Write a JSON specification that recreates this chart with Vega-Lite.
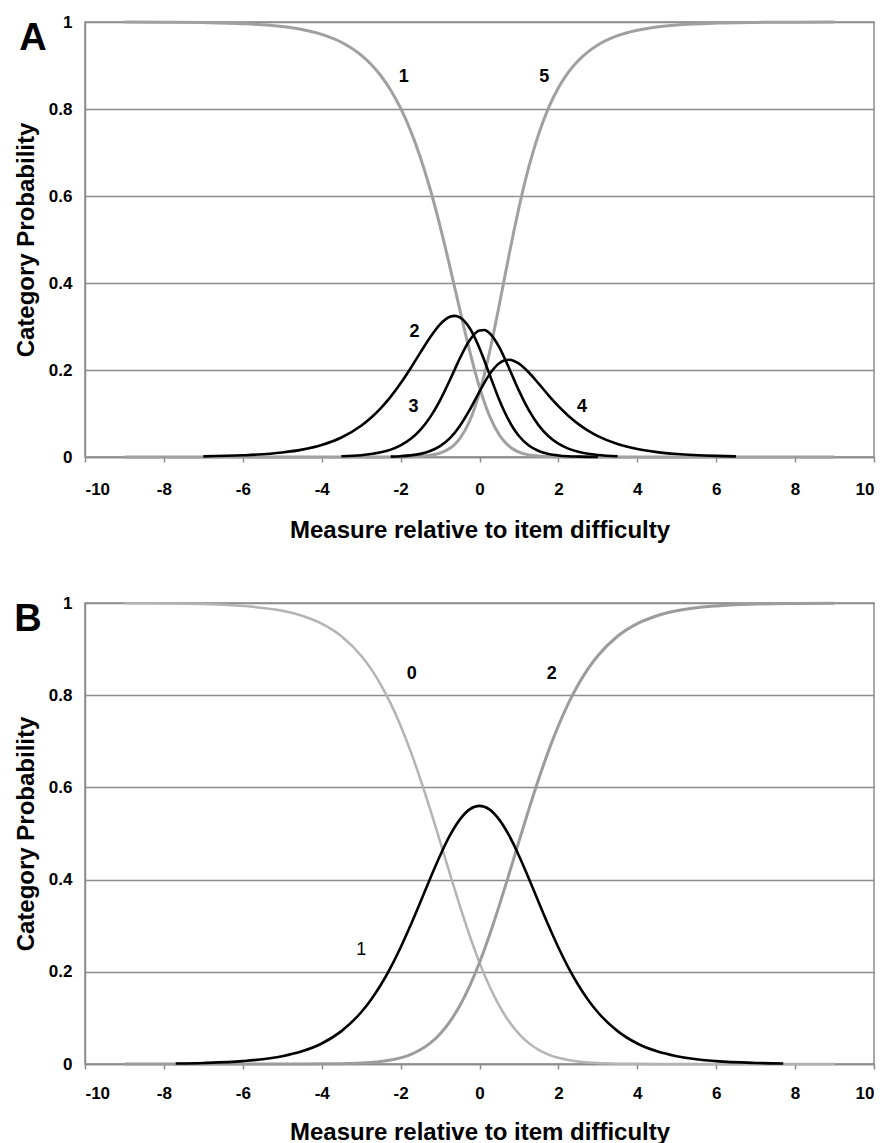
{
  "$schema": "https://vega.github.io/schema/vega-lite/v6.json",
  "padding": {"left": 13, "top": 12, "right": 3, "bottom": 0},
  "background": "white",
  "config": {
    "font": "Liberation Sans",
    "view": {"stroke": "#8c8c8c", "strokeWidth": 1.5},
    "axis": {
      "labelFont": "Liberation Sans", "labelFontWeight": "bold", "labelFontSize": 17, "labelColor": "#000",
      "titleFont": "Liberation Sans", "titleFontWeight": "bold", "titleFontSize": 24, "titleColor": "#000",
      "domainColor": "#8c8c8c", "domainWidth": 1.5, "tickColor": "#8c8c8c", "tickWidth": 1.5,
      "gridColor": "#8c8c8c", "gridWidth": 1.5
    },
    "concat": {"spacing": 50},
    "title": {"font": "Liberation Sans", "color": "#000"}
  },
  "datasets": {
    "A": [
      {"c":"1","x":-9,"y":0.9998},{"c":"1","x":-8,"y":0.9995},{"c":"1","x":-7,"y":0.9986},{"c":"1","x":-6,"y":0.9961},{"c":"1","x":-5,"y":0.9895},{"c":"1","x":-4.5,"y":0.9827},{"c":"1","x":-4,"y":0.9716},{"c":"1","x":-3.5,"y":0.9535},{"c":"1","x":-3,"y":0.9239},{"c":"1","x":-2.75,"y":0.903},{"c":"1","x":-2.5,"y":0.8765},{"c":"1","x":-2.25,"y":0.8433},{"c":"1","x":-2,"y":0.8019},{"c":"1","x":-1.75,"y":0.7509},{"c":"1","x":-1.5,"y":0.6891},{"c":"1","x":-1.25,"y":0.6156},{"c":"1","x":-1,"y":0.531},{"c":"1","x":-0.75,"y":0.4372},{"c":"1","x":-0.625,"y":0.3883},{"c":"1","x":-0.5,"y":0.3392},{"c":"1","x":-0.25,"y":0.244},{"c":"1","x":0,"y":0.1603},{"c":"1","x":0.125,"y":0.1252},{"c":"1","x":0.25,"y":0.0953},{"c":"1","x":0.5,"y":0.0512},{"c":"1","x":0.625,"y":0.0362},{"c":"1","x":0.75,"y":0.0251},{"c":"1","x":0.875,"y":0.017},{"c":"1","x":1,"y":0.0114},{"c":"1","x":1.25,"y":0.0049},{"c":"1","x":1.5,"y":0.002},{"c":"1","x":1.75,"y":0.0008},{"c":"1","x":2,"y":0.0003},{"c":"1","x":2.25,"y":0.0001},{"c":"1","x":2.5,"y":0},{"c":"1","x":3,"y":0},{"c":"1","x":4,"y":0},{"c":"1","x":5,"y":0},{"c":"1","x":6,"y":0},{"c":"1","x":7,"y":0},{"c":"1","x":8,"y":0},{"c":"1","x":9,"y":0},
      {"c":"5","x":-9,"y":0},{"c":"5","x":-8,"y":0},{"c":"5","x":-7,"y":0},{"c":"5","x":-6,"y":0},{"c":"5","x":-5,"y":0},{"c":"5","x":-4,"y":0},{"c":"5","x":-3,"y":0},{"c":"5","x":-2.5,"y":0},{"c":"5","x":-2.25,"y":0.0001},{"c":"5","x":-2,"y":0.0002},{"c":"5","x":-1.75,"y":0.0006},{"c":"5","x":-1.5,"y":0.0016},{"c":"5","x":-1.25,"y":0.0038},{"c":"5","x":-1,"y":0.009},{"c":"5","x":-0.75,"y":0.0201},{"c":"5","x":-0.625,"y":0.0294},{"c":"5","x":-0.5,"y":0.0424},{"c":"5","x":-0.25,"y":0.0828},{"c":"5","x":0,"y":0.148},{"c":"5","x":0.125,"y":0.1906},{"c":"5","x":0.25,"y":0.2391},{"c":"5","x":0.5,"y":0.3492},{"c":"5","x":0.625,"y":0.4072},{"c":"5","x":0.75,"y":0.4648},{"c":"5","x":0.875,"y":0.5206},{"c":"5","x":1,"y":0.5733},{"c":"5","x":1.25,"y":0.6667},{"c":"5","x":1.5,"y":0.7427},{"c":"5","x":1.75,"y":0.8026},{"c":"5","x":2,"y":0.8487},{"c":"5","x":2.25,"y":0.884},{"c":"5","x":2.5,"y":0.911},{"c":"5","x":2.75,"y":0.9315},{"c":"5","x":3,"y":0.9472},{"c":"5","x":3.5,"y":0.9685},{"c":"5","x":4,"y":0.9811},{"c":"5","x":4.5,"y":0.9886},{"c":"5","x":5,"y":0.9931},{"c":"5","x":6,"y":0.9975},{"c":"5","x":7,"y":0.9991},{"c":"5","x":8,"y":0.9997},{"c":"5","x":9,"y":0.9999},
      {"c":"2","x":-7,"y":0.0014},{"c":"2","x":-6,"y":0.0039},{"c":"2","x":-5,"y":0.0104},{"c":"2","x":-4.5,"y":0.017},{"c":"2","x":-4,"y":0.0278},{"c":"2","x":-3.5,"y":0.0449},{"c":"2","x":-3,"y":0.0718},{"c":"2","x":-2.75,"y":0.0901},{"c":"2","x":-2.5,"y":0.1123},{"c":"2","x":-2.25,"y":0.1387},{"c":"2","x":-2,"y":0.1694},{"c":"2","x":-1.75,"y":0.2036},{"c":"2","x":-1.5,"y":0.2399},{"c":"2","x":-1.25,"y":0.2752},{"c":"2","x":-1,"y":0.3048},{"c":"2","x":-0.75,"y":0.3223},{"c":"2","x":-0.625,"y":0.3244},{"c":"2","x":-0.5,"y":0.321},{"c":"2","x":-0.25,"y":0.2965},{"c":"2","x":0,"y":0.2502},{"c":"2","x":0.125,"y":0.2214},{"c":"2","x":0.25,"y":0.191},{"c":"2","x":0.5,"y":0.1317},{"c":"2","x":0.625,"y":0.1056},{"c":"2","x":0.75,"y":0.0828},{"c":"2","x":0.875,"y":0.0638},{"c":"2","x":1,"y":0.0483},{"c":"2","x":1.25,"y":0.0265},{"c":"2","x":1.5,"y":0.0139},{"c":"2","x":1.75,"y":0.0071},{"c":"2","x":2,"y":0.0036},{"c":"2","x":2.25,"y":0.0017},{"c":"2","x":2.5,"y":0.0009},{"c":"2","x":2.75,"y":0.0004},{"c":"2","x":3,"y":0.0002},
      {"c":"3","x":-3.5,"y":0.0016},{"c":"3","x":-3,"y":0.0042},{"c":"3","x":-2.75,"y":0.0067},{"c":"3","x":-2.5,"y":0.0107},{"c":"3","x":-2.25,"y":0.017},{"c":"3","x":-2,"y":0.0267},{"c":"3","x":-1.75,"y":0.0412},{"c":"3","x":-1.5,"y":0.0623},{"c":"3","x":-1.25,"y":0.0917},{"c":"3","x":-1,"y":0.1304},{"c":"3","x":-0.75,"y":0.1771},{"c":"3","x":-0.625,"y":0.2019},{"c":"3","x":-0.5,"y":0.2264},{"c":"3","x":-0.25,"y":0.2685},{"c":"3","x":0,"y":0.291},{"c":"3","x":0.125,"y":0.2918},{"c":"3","x":0.25,"y":0.2852},{"c":"3","x":0.5,"y":0.2525},{"c":"3","x":0.625,"y":0.2294},{"c":"3","x":0.75,"y":0.2039},{"c":"3","x":0.875,"y":0.1779},{"c":"3","x":1,"y":0.1525},{"c":"3","x":1.25,"y":0.1076},{"c":"3","x":1.5,"y":0.0727},{"c":"3","x":1.75,"y":0.0476},{"c":"3","x":2,"y":0.0306},{"c":"3","x":2.25,"y":0.0193},{"c":"3","x":2.5,"y":0.0121},{"c":"3","x":2.75,"y":0.0075},{"c":"3","x":3,"y":0.0046},{"c":"3","x":3.5,"y":0.0017},
      {"c":"4","x":-2.25,"y":0.0009},{"c":"4","x":-2,"y":0.0019},{"c":"4","x":-1.75,"y":0.0037},{"c":"4","x":-1.5,"y":0.0072},{"c":"4","x":-1.25,"y":0.0136},{"c":"4","x":-1,"y":0.0248},{"c":"4","x":-0.75,"y":0.0433},{"c":"4","x":-0.625,"y":0.0559},{"c":"4","x":-0.5,"y":0.0711},{"c":"4","x":-0.25,"y":0.1082},{"c":"4","x":0,"y":0.1505},{"c":"4","x":0.125,"y":0.1711},{"c":"4","x":0.25,"y":0.1894},{"c":"4","x":0.5,"y":0.2154},{"c":"4","x":0.625,"y":0.2217},{"c":"4","x":0.75,"y":0.2234},{"c":"4","x":0.875,"y":0.2207},{"c":"4","x":1,"y":0.2145},{"c":"4","x":1.25,"y":0.1943},{"c":"4","x":1.5,"y":0.1686},{"c":"4","x":1.75,"y":0.1418},{"c":"4","x":2,"y":0.1168},{"c":"4","x":2.25,"y":0.0948},{"c":"4","x":2.5,"y":0.0761},{"c":"4","x":2.75,"y":0.0606},{"c":"4","x":3,"y":0.048},{"c":"4","x":3.5,"y":0.0298},{"c":"4","x":4,"y":0.0183},{"c":"4","x":4.5,"y":0.0112},{"c":"4","x":5,"y":0.0068},{"c":"4","x":6,"y":0.0025},{"c":"4","x":6.5,"y":0.0015}
    ],
    "B": [
      {"c":"0","x":-9,"y":0.9997},{"c":"0","x":-8,"y":0.9991},{"c":"0","x":-7,"y":0.9977},{"c":"0","x":-6,"y":0.9937},{"c":"0","x":-5,"y":0.9831},{"c":"0","x":-4.5,"y":0.9724},{"c":"0","x":-4,"y":0.9552},{"c":"0","x":-3.5,"y":0.9279},{"c":"0","x":-3,"y":0.8856},{"c":"0","x":-2.75,"y":0.8571},{"c":"0","x":-2.5,"y":0.8226},{"c":"0","x":-2.25,"y":0.7817},{"c":"0","x":-2,"y":0.7338},{"c":"0","x":-1.75,"y":0.6792},{"c":"0","x":-1.5,"y":0.6182},{"c":"0","x":-1.25,"y":0.5521},{"c":"0","x":-1,"y":0.4828},{"c":"0","x":-0.75,"y":0.4124},{"c":"0","x":-0.5,"y":0.3435},{"c":"0","x":-0.25,"y":0.2787},{"c":"0","x":0,"y":0.22},{"c":"0","x":0.25,"y":0.169},{"c":"0","x":0.5,"y":0.1264},{"c":"0","x":0.75,"y":0.092},{"c":"0","x":1,"y":0.0653},{"c":"0","x":1.25,"y":0.0453},{"c":"0","x":1.5,"y":0.0308},{"c":"0","x":1.75,"y":0.0205},{"c":"0","x":2,"y":0.0134},{"c":"0","x":2.25,"y":0.0087},{"c":"0","x":2.5,"y":0.0055},{"c":"0","x":2.75,"y":0.0035},{"c":"0","x":3,"y":0.0022},{"c":"0","x":3.5,"y":0.0008},{"c":"0","x":4,"y":0.0003},{"c":"0","x":4.5,"y":0.0001},{"c":"0","x":5,"y":0},{"c":"0","x":6,"y":0},{"c":"0","x":7,"y":0},{"c":"0","x":8,"y":0},{"c":"0","x":9,"y":0},
      {"c":"2","x":-9,"y":0},{"c":"2","x":-8,"y":0},{"c":"2","x":-7,"y":0},{"c":"2","x":-6,"y":0},{"c":"2","x":-5,"y":0},{"c":"2","x":-4.5,"y":0.0001},{"c":"2","x":-4,"y":0.0003},{"c":"2","x":-3.5,"y":0.0008},{"c":"2","x":-3,"y":0.0022},{"c":"2","x":-2.75,"y":0.0035},{"c":"2","x":-2.5,"y":0.0055},{"c":"2","x":-2.25,"y":0.0087},{"c":"2","x":-2,"y":0.0134},{"c":"2","x":-1.75,"y":0.0205},{"c":"2","x":-1.5,"y":0.0308},{"c":"2","x":-1.25,"y":0.0453},{"c":"2","x":-1,"y":0.0653},{"c":"2","x":-0.75,"y":0.092},{"c":"2","x":-0.5,"y":0.1264},{"c":"2","x":-0.25,"y":0.169},{"c":"2","x":0,"y":0.22},{"c":"2","x":0.25,"y":0.2787},{"c":"2","x":0.5,"y":0.3435},{"c":"2","x":0.75,"y":0.4124},{"c":"2","x":1,"y":0.4828},{"c":"2","x":1.25,"y":0.5521},{"c":"2","x":1.5,"y":0.6182},{"c":"2","x":1.75,"y":0.6792},{"c":"2","x":2,"y":0.7338},{"c":"2","x":2.25,"y":0.7817},{"c":"2","x":2.5,"y":0.8226},{"c":"2","x":2.75,"y":0.8571},{"c":"2","x":3,"y":0.8856},{"c":"2","x":3.5,"y":0.9279},{"c":"2","x":4,"y":0.9552},{"c":"2","x":4.5,"y":0.9724},{"c":"2","x":5,"y":0.9831},{"c":"2","x":6,"y":0.9937},{"c":"2","x":7,"y":0.9977},{"c":"2","x":8,"y":0.9991},{"c":"2","x":9,"y":0.9997},
      {"c":"1","x":-7.7,"y":0.0012},{"c":"1","x":-7,"y":0.0023},{"c":"1","x":-6,"y":0.0063},{"c":"1","x":-5,"y":0.0169},{"c":"1","x":-4.5,"y":0.0275},{"c":"1","x":-4,"y":0.0445},{"c":"1","x":-3.5,"y":0.0713},{"c":"1","x":-3,"y":0.1122},{"c":"1","x":-2.75,"y":0.1394},{"c":"1","x":-2.5,"y":0.1718},{"c":"1","x":-2.25,"y":0.2096},{"c":"1","x":-2,"y":0.2527},{"c":"1","x":-1.75,"y":0.3003},{"c":"1","x":-1.5,"y":0.351},{"c":"1","x":-1.25,"y":0.4026},{"c":"1","x":-1,"y":0.4519},{"c":"1","x":-0.75,"y":0.4957},{"c":"1","x":-0.5,"y":0.5301},{"c":"1","x":-0.25,"y":0.5523},{"c":"1","x":0,"y":0.5599},{"c":"1","x":0.25,"y":0.5523},{"c":"1","x":0.5,"y":0.5301},{"c":"1","x":0.75,"y":0.4957},{"c":"1","x":1,"y":0.4519},{"c":"1","x":1.25,"y":0.4026},{"c":"1","x":1.5,"y":0.351},{"c":"1","x":1.75,"y":0.3003},{"c":"1","x":2,"y":0.2527},{"c":"1","x":2.25,"y":0.2096},{"c":"1","x":2.5,"y":0.1718},{"c":"1","x":2.75,"y":0.1394},{"c":"1","x":3,"y":0.1122},{"c":"1","x":3.5,"y":0.0713},{"c":"1","x":4,"y":0.0445},{"c":"1","x":4.5,"y":0.0275},{"c":"1","x":5,"y":0.0169},{"c":"1","x":6,"y":0.0063},{"c":"1","x":7,"y":0.0023},{"c":"1","x":7.7,"y":0.0012}
    ],
    "LA": [
      {"t":"1","x":-1.92,"y":0.874},{"t":"5","x":1.64,"y":0.874},{"t":"2","x":-1.65,"y":0.287},{"t":"3","x":-1.67,"y":0.115},{"t":"4","x":2.6,"y":0.115}
    ],
    "LB0": [
      {"t":"0","x":-1.72,"y":0.845},{"t":"2","x":1.83,"y":0.845}
    ],
    "LB1": [
      {"t":"1","x":-3.0,"y":0.248}
    ]
  },
  "vconcat": [
    {
      "width": 789, "height": 435,
      "title": {"text": "A", "anchor": "start", "frame": "bounds", "fontSize": 38, "fontWeight": "bold", "dx": 5, "dy": 45, "offset": 0},
      "encoding": {
        "x": {"field": "x", "type": "quantitative", "scale": {"domain": [-10, 10], "nice": false, "zero": false},
              "axis": {"values": [-10,-8,-6,-4,-2,0,2,4,6,8,10], "labelExpr": "'' + datum.value", "grid": false, "tickSize": 5, "labelPadding": 19, "title": "Measure relative to item difficulty", "titlePadding": 21}},
        "y": {"field": "y", "type": "quantitative", "scale": {"domain": [0, 1], "nice": false},
              "axis": {"values": [0,0.2,0.4,0.6,0.8,1], "format": "~g", "grid": true, "ticks": false, "labelPadding": 13, "title": "Category Probability", "titlePadding": 10}}
      },
      "layer": [
        {"data": {"name": "A"}, "transform": [{"filter": "datum.c == '1' || datum.c == '5'"}],
         "mark": {"type": "line", "color": "#a0a0a0", "strokeWidth": 3, "interpolate": "monotone"},
         "encoding": {"detail": {"field": "c"}}},
        {"data": {"name": "A"}, "transform": [{"filter": "datum.c != '1' && datum.c != '5'"}],
         "mark": {"type": "line", "color": "#000000", "strokeWidth": 2.6, "interpolate": "monotone"},
         "encoding": {"detail": {"field": "c"}}},
        {"data": {"name": "LA"},
         "mark": {"type": "text", "fontSize": 18, "fontWeight": "bold", "align": "center", "baseline": "middle", "color": "#000"},
         "encoding": {"text": {"field": "t"}}}
      ]
    },
    {
      "width": 789, "height": 461,
      "title": {"text": "B", "anchor": "start", "frame": "bounds", "fontSize": 38, "fontWeight": "bold", "dx": 0, "dy": 45, "offset": 0},
      "encoding": {
        "x": {"field": "x", "type": "quantitative", "scale": {"domain": [-10, 10], "nice": false, "zero": false},
              "axis": {"values": [-10,-8,-6,-4,-2,0,2,4,6,8,10], "labelExpr": "'' + datum.value", "grid": false, "tickSize": 5, "labelPadding": 16, "title": "Measure relative to item difficulty", "titlePadding": 19}},
        "y": {"field": "y", "type": "quantitative", "scale": {"domain": [0, 1], "nice": false},
              "axis": {"values": [0,0.2,0.4,0.6,0.8,1], "format": "~g", "grid": true, "ticks": false, "labelPadding": 13, "title": "Category Probability", "titlePadding": 10}}
      },
      "layer": [
        {"data": {"name": "B"}, "transform": [{"filter": "datum.c == '0'"}],
         "mark": {"type": "line", "color": "#b4b4b4", "strokeWidth": 2.5, "interpolate": "monotone"},
         "encoding": {"detail": {"field": "c"}}},
        {"data": {"name": "B"}, "transform": [{"filter": "datum.c == '2'"}],
         "mark": {"type": "line", "color": "#9c9c9c", "strokeWidth": 3, "interpolate": "monotone"},
         "encoding": {"detail": {"field": "c"}}},
        {"data": {"name": "B"}, "transform": [{"filter": "datum.c == '1'"}],
         "mark": {"type": "line", "color": "#000000", "strokeWidth": 2.6, "interpolate": "monotone"},
         "encoding": {"detail": {"field": "c"}}},
        {"data": {"name": "LB0"},
         "mark": {"type": "text", "fontSize": 18, "fontWeight": "bold", "align": "center", "baseline": "middle", "color": "#000"},
         "encoding": {"text": {"field": "t"}}},
        {"data": {"name": "LB1"},
         "mark": {"type": "text", "fontSize": 18, "fontWeight": "normal", "align": "center", "baseline": "middle", "color": "#000"},
         "encoding": {"text": {"field": "t"}}}
      ]
    }
  ]
}
